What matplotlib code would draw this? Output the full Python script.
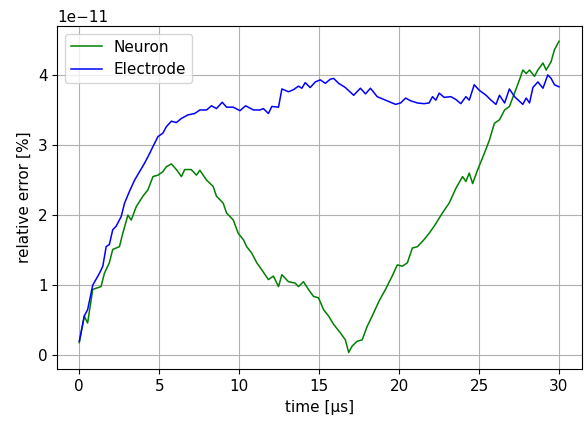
import numpy as np
import matplotlib.pyplot as plt

# время [мкс] и значения ошибки (в единицах 1e-11)
t_neuron = [0, 0.31, 0.52, 0.84, 1.36, 1.57, 1.88, 2.09, 2.51, 2.72, 3.04, 3.25, 3.56, 3.98,
            4.29, 4.61, 4.92, 5.23, 5.44, 5.76, 6.07, 6.39, 6.59, 7.0, 7.33, 7.54, 7.96, 8.37,
            8.58, 9.0, 9.21, 9.63, 9.94, 10.26, 10.47, 10.78, 11.1, 11.41, 11.83, 12.14, 12.46,
            12.67, 13.08, 13.5, 13.71, 14.02, 14.33, 14.65, 14.96, 15.28, 15.59, 15.91, 16.33,
            16.64, 16.85, 17.06, 17.38, 17.69, 18.0, 18.32, 18.74, 19.15, 19.57, 19.89, 20.2,
            20.52, 20.83, 21.15, 21.56, 21.88, 22.19, 22.71, 23.13, 23.55, 23.97, 24.18, 24.39,
            24.6, 24.92, 25.33, 25.65, 25.96, 26.28, 26.6, 26.9, 27.22, 27.53, 27.74, 27.95,
            28.16, 28.47, 28.68, 29.0, 29.2, 29.51, 29.72, 30.0]
neuron = [0.18, 0.56, 0.46, 0.94, 0.98, 1.17, 1.32, 1.51, 1.55, 1.74, 2.0, 1.93, 2.12, 2.27,
          2.36, 2.55, 2.57, 2.62, 2.69, 2.73, 2.65, 2.55, 2.65, 2.65, 2.57, 2.64, 2.5, 2.41,
          2.27, 2.17, 2.03, 1.93, 1.74, 1.65, 1.55, 1.46, 1.32, 1.22, 1.08, 1.13, 0.98,
          1.15, 1.05, 1.03, 0.98, 1.05, 0.94, 0.84, 0.82, 0.65, 0.56, 0.44, 0.32,
          0.22, 0.04, 0.13, 0.2, 0.22, 0.41, 0.56, 0.77, 0.94, 1.13, 1.29, 1.27,
          1.32, 1.53, 1.55, 1.65, 1.74, 1.84, 2.03, 2.17, 2.38, 2.55, 2.48, 2.6,
          2.45, 2.65, 2.88, 3.07, 3.31, 3.36, 3.5, 3.55, 3.74, 3.93, 4.07, 4.02,
          4.07, 3.98, 4.07, 4.17, 4.07, 4.19, 4.36, 4.48]

t_electrode = [0, 0.31, 0.52, 0.84, 1.26, 1.47, 1.68, 1.88, 2.09, 2.3, 2.62, 2.83, 3.14, 3.46,
               3.77, 4.08, 4.4, 4.61, 4.92, 5.23, 5.44, 5.76, 6.07, 6.39, 6.8, 7.22, 7.54, 7.96,
               8.27, 8.58, 8.94, 9.21, 9.63, 10.05, 10.4, 10.89, 11.3, 11.51, 11.83, 12.04, 12.46,
               12.67, 13.08, 13.4, 13.71, 13.92, 14.13, 14.44, 14.76, 15.07, 15.39, 15.7, 15.91,
               16.22, 16.64, 17.16, 17.58, 17.9, 18.21, 18.63, 19.15, 19.78, 20.1, 20.41, 20.73,
               21.15, 21.56, 21.88, 22.09, 22.3, 22.51, 22.82, 23.24, 23.55, 23.86, 24.18, 24.39,
               24.7, 25.02, 25.44, 25.75, 26.06, 26.28, 26.6, 26.9, 27.22, 27.74, 27.95, 28.16,
               28.37, 28.68, 29.0, 29.3, 29.51, 29.72, 30.0]
electrode = [0.2, 0.56, 0.65, 1.0, 1.17, 1.27, 1.55, 1.58, 1.79, 1.84, 1.98, 2.17, 2.34, 2.5,
             2.62, 2.74, 2.88, 2.98, 3.12, 3.17, 3.26, 3.34, 3.32, 3.38, 3.43, 3.45, 3.5, 3.5,
             3.56, 3.52, 3.61, 3.54, 3.54, 3.49, 3.56, 3.5, 3.5, 3.52, 3.45, 3.55, 3.54,
             3.8, 3.76, 3.79, 3.84, 3.81, 3.89, 3.82, 3.9, 3.93, 3.88, 3.94, 3.95,
             3.88, 3.82, 3.71, 3.81, 3.73, 3.81, 3.69, 3.64, 3.58, 3.6, 3.67, 3.63,
             3.6, 3.59, 3.6, 3.69, 3.64, 3.74, 3.68, 3.69, 3.65, 3.59, 3.69, 3.64,
             3.86, 3.78, 3.71, 3.64, 3.58, 3.71, 3.6, 3.8, 3.69, 3.58, 3.67, 3.6,
             3.82, 3.9, 3.81, 4.0, 3.95, 3.86, 3.83]

plt.rcParams['font.size'] = 11

fig = plt.figure(figsize=(5.84, 4.24), dpi=100)
ax = fig.add_axes([0.098, 0.129, 0.898, 0.810])
ax.plot(t_neuron, np.array(neuron) * 1e-11, color='green', lw=1.1, label='Neuron')
ax.plot(t_electrode, np.array(electrode) * 1e-11, color='blue', lw=1.1, label='Electrode')
ax.set_xlim(-1.38, 31.42)
ax.set_ylim(-0.2e-11, 4.7e-11)
ax.set_xlabel('time [µs]')
ax.set_ylabel('relative error [%]')
ax.grid(True)
ax.legend(loc='upper left')
fig.savefig('out.png')
